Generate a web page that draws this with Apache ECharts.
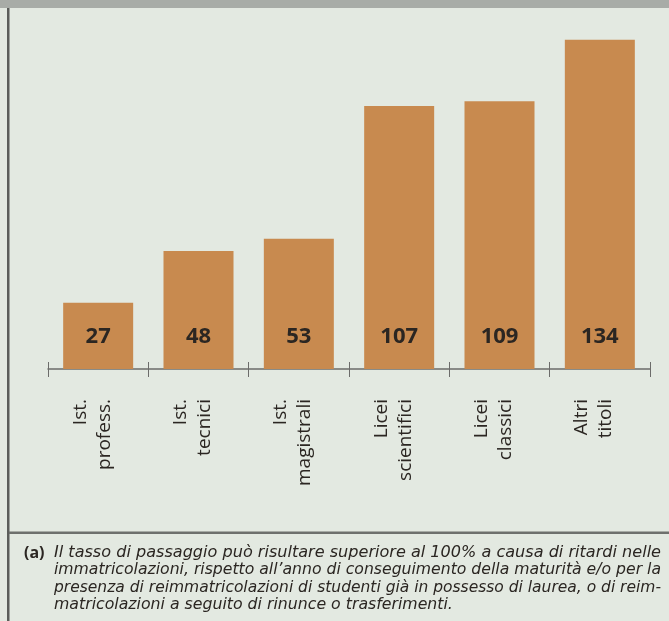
<!DOCTYPE html>
<html>
<head>
<meta charset="utf-8">
<script src="https://cdn.jsdelivr.net/npm/echarts@6/dist/echarts.min.js"></script>
<style>
  html, body { margin: 0; padding: 0; background: #e3e9e1; }
  #chart { width: 669px; height: 621px; }
</style>
</head>
<body>
<div id="chart"></div>
<script>
// Tasso di passaggio all'università per tipo di diploma
const categories = ['Ist.\nprofess.', 'Ist.\ntecnici', 'Ist.\nmagistrali', 'Licei\nscientifici', 'Licei\nclassici', 'Altri\ntitoli'];
const values = [27, 48, 53, 107, 109, 134];
const noteLines = [
  'Il tasso di passaggio può risultare superiore al 100% a causa di ritardi nelle',
  'immatricolazioni, rispetto all’anno di conseguimento della maturità e/o per la',
  'presenza di reimmatricolazioni di studenti già in possesso di laurea, o di reim-',
  'matricolazioni a seguito di rinunce o trasferimenti.'
];
const noteMark = '(a)';

const chart = echarts.init(document.getElementById('chart'), null, { renderer: 'canvas' });

const inkColor = '#2b2622';
const axisColor = '#6c6c6a';
const noteFont = 'oblique 16px "DejaVu Sans", sans-serif';

// Justify the note: every full line is squeezed horizontally to the same right edge.
const measureCtx = document.createElement('canvas').getContext('2d');
measureCtx.font = noteFont;
const noteLeft = 54, noteRight = 661;
const noteScales = noteLines.map((line) => (noteRight - noteLeft) / measureCtx.measureText(line).width);
const fullScale = (noteScales[0] + noteScales[1] + noteScales[2]) / 3;

const graphics = [
  { type: 'rect', shape: { x: 0, y: 0, width: 669, height: 8 }, style: { fill: '#a8aca7' }, silent: true },
  { type: 'rect', shape: { x: 7, y: 8, width: 2.5, height: 613 }, style: { fill: '#5b5d5a' }, silent: true },
  { type: 'rect', shape: { x: 9, y: 531.5, width: 660, height: 2.5 }, style: { fill: '#6e706d' }, silent: true },
  {
    type: 'text', x: 24, y: 545,
    style: { text: noteMark, font: 'bold 16px "Open Sans", sans-serif', fill: inkColor }
  }
];
noteLines.forEach((line, i) => {
  const last = i === noteLines.length - 1;
  graphics.push({
    type: 'text',
    x: noteLeft, y: 545 + i * 17.3,
    scaleX: last ? fullScale : noteScales[i],
    style: { text: line, font: noteFont, fill: inkColor }
  });
});

chart.setOption({
  backgroundColor: '#e3e9e1',
  animation: false,
  grid: { left: 48, right: 19, top: 25, bottom: 252 },
  xAxis: [
    {
      type: 'category',
      data: categories,
      position: 'bottom',
      axisLine: { show: true, lineStyle: { color: axisColor, width: 1.5 } },
      axisTick: { show: true, inside: false, length: 8, lineStyle: { color: axisColor, width: 1 } },
      axisLabel: {
        rotate: 90,
        margin: 30,
        fontFamily: '"Open Sans", sans-serif',
        fontSize: 19,
        lineHeight: 24,
        color: inkColor,
        // a short empty trailing line nudges each two-line label a little left
        formatter: (v) => v + '\n{gap| }',
        rich: { gap: { lineHeight: 12, fontSize: 6 } }
      }
    },
    {
      type: 'category',
      data: categories,
      position: 'bottom',
      axisLine: { show: false },
      axisTick: { show: true, inside: true, length: 7, lineStyle: { color: axisColor, width: 1 } },
      axisLabel: { show: false }
    }
  ],
  yAxis: {
    type: 'value',
    min: 0,
    max: 140,
    show: false,
    splitLine: { show: false }
  },
  series: [{
    type: 'bar',
    data: values,
    barWidth: 70,
    itemStyle: { color: '#c88a4f' },
    label: {
      show: true,
      position: 'insideBottom',
      distance: 21,
      fontFamily: '"Open Sans", sans-serif',
      fontWeight: 'bold',
      fontSize: 22,
      color: inkColor
    }
  }],
  graphic: graphics
});
</script>
</body>
</html>
